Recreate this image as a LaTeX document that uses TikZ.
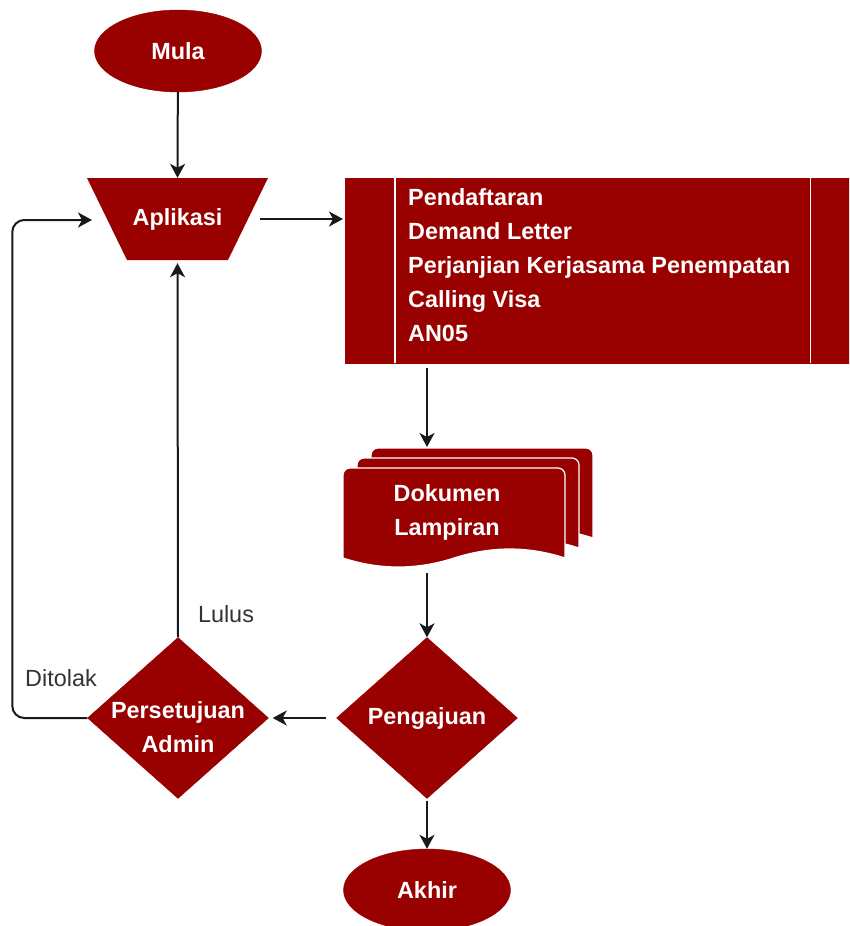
\documentclass[tikz,border=0pt]{standalone}
\usepackage{fontspec}
\setmainfont{Liberation Sans}
\usetikzlibrary{shapes.geometric,arrows.meta,positioning}
\definecolor{maroon}{HTML}{990000}
\definecolor{notegray}{HTML}{333333}
\tikzset{
  base/.style={fill=maroon, draw=maroon, text=white, inner sep=0pt,
    font=\fontsize{23.4}{34}\selectfont\bfseries},
  plain/.style={text=white, inner sep=0pt, align=center,
    font=\fontsize{23.4}{34}\selectfont\bfseries},
  term/.style={base, ellipse, minimum width=167pt, minimum height=82pt},
  decision/.style={base, diamond, minimum width=181pt, minimum height=161pt},
  proc/.style={base, rectangle, minimum width=515pt, minimum height=185pt},
  flow/.style={-{Stealth[length=14pt,width=15pt,inset=4pt]}, line width=2pt, draw=black!90},
  note/.style={text=notegray, inner sep=0pt, font=\fontsize{23.4}{34}\selectfont}
}
\begin{document}
\begin{tikzpicture}[x=1pt, y=-1pt]
  \useasboundingbox (0,0) rectangle (849,926);
  \clip (0,0) rectangle (849,926);
  % terminals and input
  \node[term] (mula) at (178,51) {Mula};
  \fill[maroon] (87,178) -- (268,178) -- (228,260) -- (127,260) -- cycle;
  \node[plain, minimum width=181pt, minimum height=82pt] (apl) at (177.5,219) {Aplikasi};
  % registration box
  \node[proc, anchor=north west] (reg) at (345,178) {};
  \draw[white, line width=1.2pt] ([xshift=50pt]reg.north west) -- ([xshift=50pt]reg.south west);
  \draw[white, line width=1.2pt] ([xshift=-50pt]reg.north east) -- ([xshift=-50pt]reg.south east);
  \node[plain, anchor=west, align=left] (regtxt) at (408,265)
    {Pendaftaran\\Demand Letter\\Perjanjian Kerjasama Penempatan\\Calling Visa\\AN05};
  % stacked documents
  \foreach \dx/\dy in {28/20,14/10,0/0} {
    \filldraw[fill=maroon, draw=white, line width=1.2pt, shift={(\dx,-\dy)}]
      (343,558) [rounded corners=7pt] -- (343,468) -- (565,468) [sharp corners] -- (565,558)
      .. controls (528.3,546) and (491.3,546) .. (454,558)
      .. controls (416.7,570) and (379.7,570) .. (343,558) -- cycle;
  }
  \node[plain] (docs) at (447,512) {Dokumen\\Lampiran};
  \coordinate (docin) at (427,447);
  \coordinate (docout) at (427,573);
  % decisions
  \node[decision] (ajuan) at (427,718) {};
  \node[plain] at (ajuan) {Pengajuan};
  \node[decision] (admin) at (178,718) {};
  \node[plain] at (178,727) {Persetujuan\\Admin};
  \node[term] (akhir) at (427,890) {Akhir};
  % labels
  \node[note] (lulus) at (226,614) {Lulus};
  \node[note] (tolak) at (61,678) {Ditolak};
  \coordinate (aplin) at (92,220);
  % connectors
  \draw[flow] (mula) -- (apl.north);
  \draw[flow, shorten <=-8pt, shorten >=2pt] (apl.east) -- (apl.east -| reg.west);
  \draw[flow, shorten <=5pt] (reg.south -| docin) -- (docin);
  \draw[flow] (docout) -- (ajuan.north);
  \draw[flow, shorten <=10pt, shorten >=4pt] (ajuan.west) -- (admin.east);
  \draw[flow, shorten >=3pt] (admin.north) -- (apl.south);
  \draw[flow, rounded corners=12pt] (admin.west) -- ++(-75,0) |- (aplin);
  \draw[flow, shorten <=2pt] (ajuan.south) -- (akhir.north);
\end{tikzpicture}
\end{document}
